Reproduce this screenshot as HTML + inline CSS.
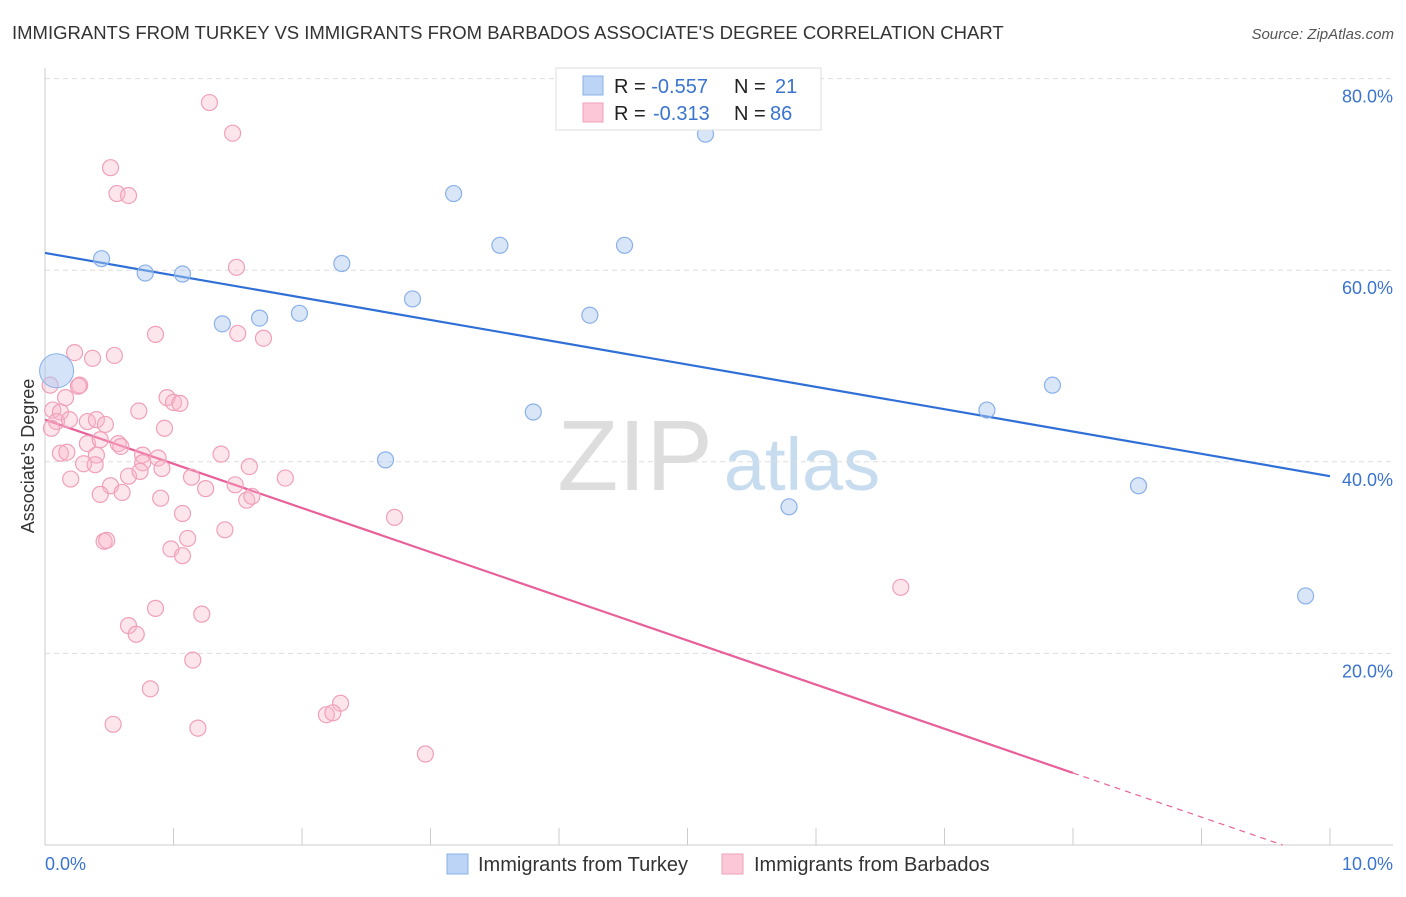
<!DOCTYPE html>
<html><head><meta charset="utf-8"><style>
body{margin:0;background:#fff;font-family:"Liberation Sans",sans-serif}
svg text{font-family:"Liberation Sans",sans-serif}
</style></head><body>
<svg id="c" width="1406" height="892" xmlns="http://www.w3.org/2000/svg">
<text x="12" y="39" font-size="18.5" fill="#333">IMMIGRANTS FROM TURKEY VS IMMIGRANTS FROM BARBADOS ASSOCIATE'S DEGREE CORRELATION CHART</text>
<text x="1394" y="39" font-size="15" fill="#555" font-style="italic" text-anchor="end">Source: ZipAtlas.com</text>
<text x="34" y="456" font-size="18" fill="#333" text-anchor="middle" transform="rotate(-90 34 456)">Associate's Degree</text>
<g><text x="635" y="490" font-size="100" fill="#ddd" font-family="Liberation Serif" text-anchor="middle">ZIP</text><text x="802" y="490" font-size="74" fill="#c8dcf0" text-anchor="middle">atlas</text></g>
<g id="grid"></g><g id="ticks"></g><g id="lines"></g><g id="pts"></g>
<g>
<rect x="556" y="68" width="265" height="62" fill="#fff" stroke="#ddd"/>
<rect x="583" y="76" width="20" height="19" fill="#bcd4f5" stroke="#8ab0e8"/>
<rect x="583" y="103" width="20" height="19" fill="#fcc8d8" stroke="#f0a0b8"/>
<text x="614" y="93" font-size="20" fill="#222">R = <tspan fill="#3a74d0">-0.557</tspan><tspan x="734">N = </tspan><tspan x="775" fill="#3a74d0">21</tspan></text>
<text x="614" y="120" font-size="20" fill="#222">R = <tspan x="653" fill="#3a74d0">-0.313</tspan><tspan x="734">N = </tspan><tspan x="770" fill="#3a74d0">86</tspan></text>
</g>
<g>
<rect x="447" y="854" width="21" height="20" fill="#bcd4f5" stroke="#8ab0e8"/>
<text x="478" y="871" font-size="20" fill="#333">Immigrants from Turkey</text>
<rect x="722" y="854" width="21" height="20" fill="#fcc8d8" stroke="#f0a0b8"/>
<text x="754" y="871" font-size="20" fill="#333">Immigrants from Barbados</text>
</g>
</svg>
<script>
const yTicks=[20,40,60,80];
const xTickLabels=["0.0%","10.0%"];
const turkeyX=[0.44,0.78,1.07,1.38,1.67,1.98,2.31,2.86,3.18,3.54,3.80,4.24,4.51,5.14,2.65,5.79,7.33,7.84,8.51,9.81];
const turkeyY=[61.2,59.7,59.6,54.4,55.0,55.5,60.7,57.0,68.0,62.6,45.2,55.3,62.6,74.2,40.2,35.3,45.4,48.0,37.5,26.0];
const turkeyBig=[0.09,49.5];
const barbX=[1.28,1.46,0.51,0.56,0.65,1.49,0.86,1.50,1.70,0.23,0.37,0.54,0.04,0.27,0.16,0.26,0.95,1.00,1.05,0.73,0.06,0.12,0.09,0.19,0.33,0.40,0.47,0.05,0.93,0.33,0.43,0.57,0.59,0.12,0.17,0.40,0.76,0.88,1.37,0.30,0.39,0.76,0.91,1.59,0.20,0.65,1.14,1.48,1.87,0.51,0.74,1.25,0.43,0.60,0.90,1.57,1.61,1.07,2.72,1.40,0.46,0.48,1.11,0.98,1.07,6.66,0.86,1.22,0.65,0.71,1.15,0.82,2.30,2.19,2.24,0.53,1.19,2.96];
const barbY=[77.5,74.3,70.7,68.0,67.8,60.3,53.3,53.4,52.9,51.4,50.8,51.1,48.0,48.0,46.7,47.9,46.7,46.2,46.1,45.3,45.4,45.2,44.2,44.4,44.2,44.4,43.9,43.5,43.5,41.9,42.3,41.9,41.6,40.9,41.0,40.7,40.7,40.4,40.8,39.8,39.7,39.9,39.3,39.5,38.2,38.5,38.4,37.6,38.3,37.5,39.0,37.2,36.6,36.8,36.2,36.0,36.4,34.6,34.2,32.9,31.7,31.8,32.0,30.9,30.2,26.9,24.7,24.1,22.9,22.0,19.3,16.3,14.8,13.6,13.8,12.6,12.2,9.5];
const turkeyTrend=[61.8,38.5];
const barbTrend=[44.4,-1.7];
const barbSolidEnd=8.0;
const X=v=>45+v*128.5, Y=v=>845-v*9.58;
const NS="http://www.w3.org/2000/svg";
function mk(p,t,a){const e=document.createElementNS(NS,t);for(const k in a)e.setAttribute(k,a[k]);document.getElementById(p).appendChild(e);return e;}
yTicks.forEach(t=>{
 const l=mk('grid','line',{x1:45,x2:1393,y1:Y(t),y2:Y(t),stroke:'#ddd','stroke-dasharray':'5,4'});
 
 
 const tx=mk('grid','text',{x:1393,y:Y(t)+24,'font-size':18,fill:'#3a74d0','text-anchor':'end'});tx.textContent=t.toFixed(1)+'%';
 
 
});
mk('ticks','line',{x1:45,x2:1393,y1:845,y2:845,stroke:'#ccc'});
mk('ticks','line',{x1:45,x2:45,y1:68,y2:845,stroke:'#ccc'});
for(let k=1;k<=10;k++){mk('ticks','line',{x1:X(k),x2:X(k),y1:828,y2:845,stroke:'#ccc'});}
[[0,'start',45],[10,'end',1393]].forEach((d,i)=>{const t=mk('ticks','text',{x:d[2],y:870,'font-size':18,fill:'#3a74d0','text-anchor':d[1]});t.textContent=xTickLabels[i];
 
 });
barbX.forEach((x,i)=>{const c=mk('pts','circle',{cx:X(x),cy:Y(barbY[i]),r:8,fill:'rgba(248,180,200,0.35)',stroke:'#f0a0b8','stroke-width':1.2});
 
 });
turkeyX.forEach((x,i)=>{const c=mk('pts','circle',{cx:X(x),cy:Y(turkeyY[i]),r:8,fill:'rgba(170,200,240,0.45)',stroke:'#8ab0e8','stroke-width':1.2});
 
 });
const big=mk('pts','circle',{cx:X(turkeyBig[0]),cy:Y(turkeyBig[1]),r:17,fill:'rgba(170,200,240,0.5)',stroke:'#8ab0e8'});


const tl=mk('lines','line',{x1:X(0),y1:Y(turkeyTrend[0]),x2:X(10),y2:Y(turkeyTrend[1]),stroke:'#2f6fd6','stroke-width':2.2});


const by=x=>barbTrend[0]+(barbTrend[1]-barbTrend[0])*x/10;
const bl=mk('lines','line',{x1:X(0),y1:Y(by(0)),x2:X(barbSolidEnd),y2:Y(by(barbSolidEnd)),stroke:'#e8609a','stroke-width':2.2});


const xz=-barbTrend[0]/(barbTrend[1]-barbTrend[0])*10;
const bd=mk('lines','line',{x1:X(barbSolidEnd),y1:Y(by(barbSolidEnd)),x2:X(xz),y2:Y(0),stroke:'#e8609a','stroke-width':1.2,'stroke-dasharray':'6,5'});


</script>
</body></html>
